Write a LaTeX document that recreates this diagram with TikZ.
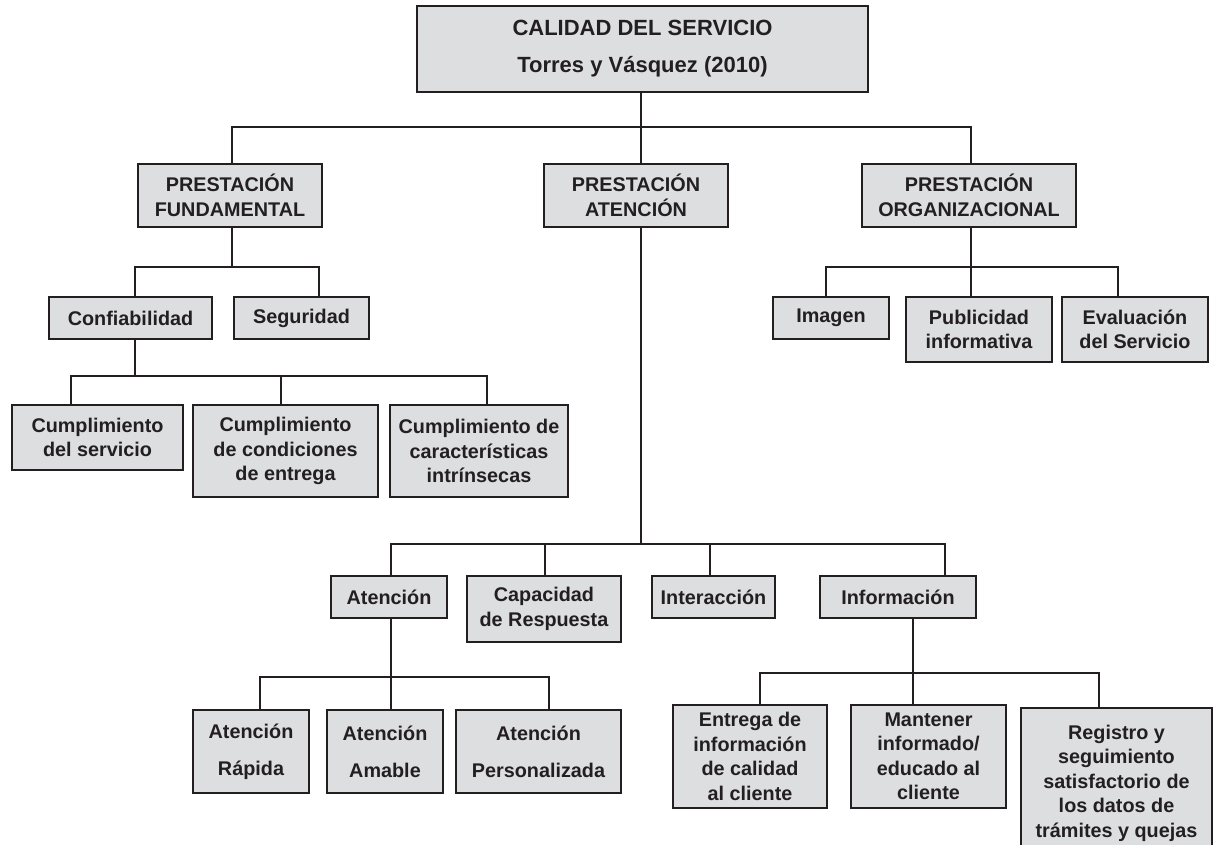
\documentclass[tikz,border=0pt]{standalone}
\usepackage{fontspec}
\setmainfont{Liberation Sans}
\definecolor{ln}{RGB}{35,31,32}
\definecolor{bf}{RGB}{221,222,224}
\begin{document}
\begin{tikzpicture}[x=1pt,y=-1pt,
  bx/.style={draw=ln, fill=bf, line width=1.8pt, inner sep=0pt, align=center,
    font=\bfseries\fontsize{19.8}{24.5}\selectfont, text=ln},
  bxw/.style={bx, font=\bfseries\fontsize{19.8}{37}\selectfont},
  cn/.style={draw=ln, line width=1.8pt}]
\useasboundingbox (0,0) rectangle (1213,845);
\coordinate (b1) at (0,127);
\coordinate (b2) at (0,267);
\coordinate (b3) at (0,376);
\coordinate (b4) at (0,544);
\coordinate (b5) at (0,677);
\coordinate (b6) at (0,673);

\node[bx, minimum width=451, minimum height=86, font=\bfseries\fontsize{22}{37}\selectfont] (top) at (642.5,49) {CALIDAD DEL SERVICIO\\Torres y Vásquez (2010)};

\node[bx, minimum width=184, minimum height=63] (fund) at (230,195.5) {PRESTACIÓN\\FUNDAMENTAL};
\node[bx, minimum width=184, minimum height=63] (aten) at (636,195.5) {PRESTACIÓN\\ATENCIÓN};
\node[bx, minimum width=214, minimum height=63] (org) at (969,195.5) {PRESTACIÓN\\ORGANIZACIONAL};

\node[bx, minimum width=163, minimum height=42] (conf) at (130.5,318) {Confiabilidad};
\node[bx, minimum width=135, minimum height=42] (seg) at (301.5,318) {Seguridad};
\node[bx, minimum width=171, minimum height=65] (c1) at (97.5,437.5) {Cumplimiento\\del servicio};
\node[bx, minimum width=185, minimum height=92] (c2) at (285.5,451) {Cumplimiento\\de condiciones\\de entrega};
\node[bx, minimum width=178, minimum height=92] (c3) at (479,451) {Cumplimiento de\\características\\intrínsecas};

\node[bx, minimum width=116, minimum height=42] (img) at (831,318) {Imagen};
\node[bx, minimum width=146, minimum height=65] (pub) at (979,329.5) {Publicidad\\informativa};
\node[bx, minimum width=146, minimum height=65] (eva) at (1135,329.5) {Evaluación\\del Servicio};

\node[bx, minimum width=116, minimum height=42] (at) at (389,597) {Atención};
\node[bx, minimum width=154, minimum height=66] (cap) at (544,609) {Capacidad\\de Respuesta};
\node[bx, minimum width=123, minimum height=42] (int) at (713.5,597) {Interacción};
\node[bx, minimum width=156, minimum height=42] (inf) at (898,597) {Información};

\node[bxw, minimum width=116, minimum height=83] (ar) at (251,751.5) {Atención\\Rápida};
\node[bxw, minimum width=116, minimum height=83] (aa) at (385,751.5) {Atención\\Amable};
\node[bxw, minimum width=165, minimum height=83] (ap) at (538.5,751.5) {Atención\\Personalizada};

\node[bx, minimum width=154, minimum height=103] (en) at (750,756.5) {Entrega de\\información\\de calidad\\al cliente};
\node[bx, minimum width=155, minimum height=103] (ma) at (928.5,756.5) {Mantener\\informado/\\educado al\\cliente};
\node[bx, minimum width=191, minimum height=150] (re) at (1116.5,783) {Registro y\\seguimiento\\satisfactorio de\\los datos de\\trámites y quejas};

% level 1
\draw[cn] ([xshift=-1.5pt]top.south) -- ([xshift=-1.5pt]top.south |- b1);
\draw[cn] ([xshift=2pt]fund.north) -- ([xshift=2pt]fund.north |- b1) -- ([xshift=2pt]org.north |- b1) -- ([xshift=2pt]org.north);
\draw[cn] ([xshift=5pt]aten.north) -- ([xshift=5pt]aten.north |- b1);
% fundamental
\draw[cn] ([xshift=2pt]fund.south) -- ([xshift=2pt]fund.south |- b2);
\draw[cn] ([xshift=4.5pt]conf.north) -- ([xshift=4.5pt]conf.north |- b2) -- ([xshift=17.5pt]seg.north |- b2) -- ([xshift=17.5pt]seg.north);
\draw[cn] ([xshift=4.5pt]conf.south) -- ([xshift=4.5pt]conf.south |- b3);
\draw[cn] ([xshift=-26.5pt]c1.north) -- ([xshift=-26.5pt]c1.north |- b3) -- ([xshift=8pt]c3.north |- b3) -- ([xshift=8pt]c3.north);
\draw[cn] ([xshift=-4.5pt]c2.north) -- ([xshift=-4.5pt]c2.north |- b3);
% organizacional
\draw[cn] ([xshift=2pt]org.south) -- ([xshift=2pt]org.south |- b2);
\draw[cn] ([xshift=-5pt]img.north) -- ([xshift=-5pt]img.north |- b2) -- ([xshift=-17pt]eva.north |- b2) -- ([xshift=-17pt]eva.north);
\draw[cn] ([xshift=-8pt]pub.north) -- ([xshift=-8pt]pub.north |- b2);
% atencion
\draw[cn] ([xshift=5pt]aten.south) -- ([xshift=5pt]aten.south |- b4);
\draw[cn] ([xshift=2pt]at.north) -- ([xshift=2pt]at.north |- b4) -- ([xshift=47pt]inf.north |- b4) -- ([xshift=47pt]inf.north);
\draw[cn] ([xshift=1pt]cap.north) -- ([xshift=1pt]cap.north |- b4);
\draw[cn] ([xshift=-3.5pt]int.north) -- ([xshift=-3.5pt]int.north |- b4);
% atencion sub
\draw[cn] ([xshift=2pt]at.south) -- ([xshift=2pt]at.south |- b5);
\draw[cn] ([xshift=9pt]ar.north) -- ([xshift=9pt]ar.north |- b5) -- ([xshift=10.5pt]ap.north |- b5) -- ([xshift=10.5pt]ap.north);
\draw[cn] ([xshift=6pt]aa.north) -- ([xshift=6pt]aa.north |- b5);
% informacion sub
\draw[cn] ([xshift=15pt]inf.south) -- ([xshift=15pt]inf.south |- b6);
\draw[cn] ([xshift=10pt]en.north) -- ([xshift=10pt]en.north |- b6) -- ([xshift=-17.5pt]re.north |- b6) -- ([xshift=-17.5pt]re.north);
\draw[cn] ([xshift=-15.5pt]ma.north) -- ([xshift=-15.5pt]ma.north |- b6);
\end{tikzpicture}
\end{document}
